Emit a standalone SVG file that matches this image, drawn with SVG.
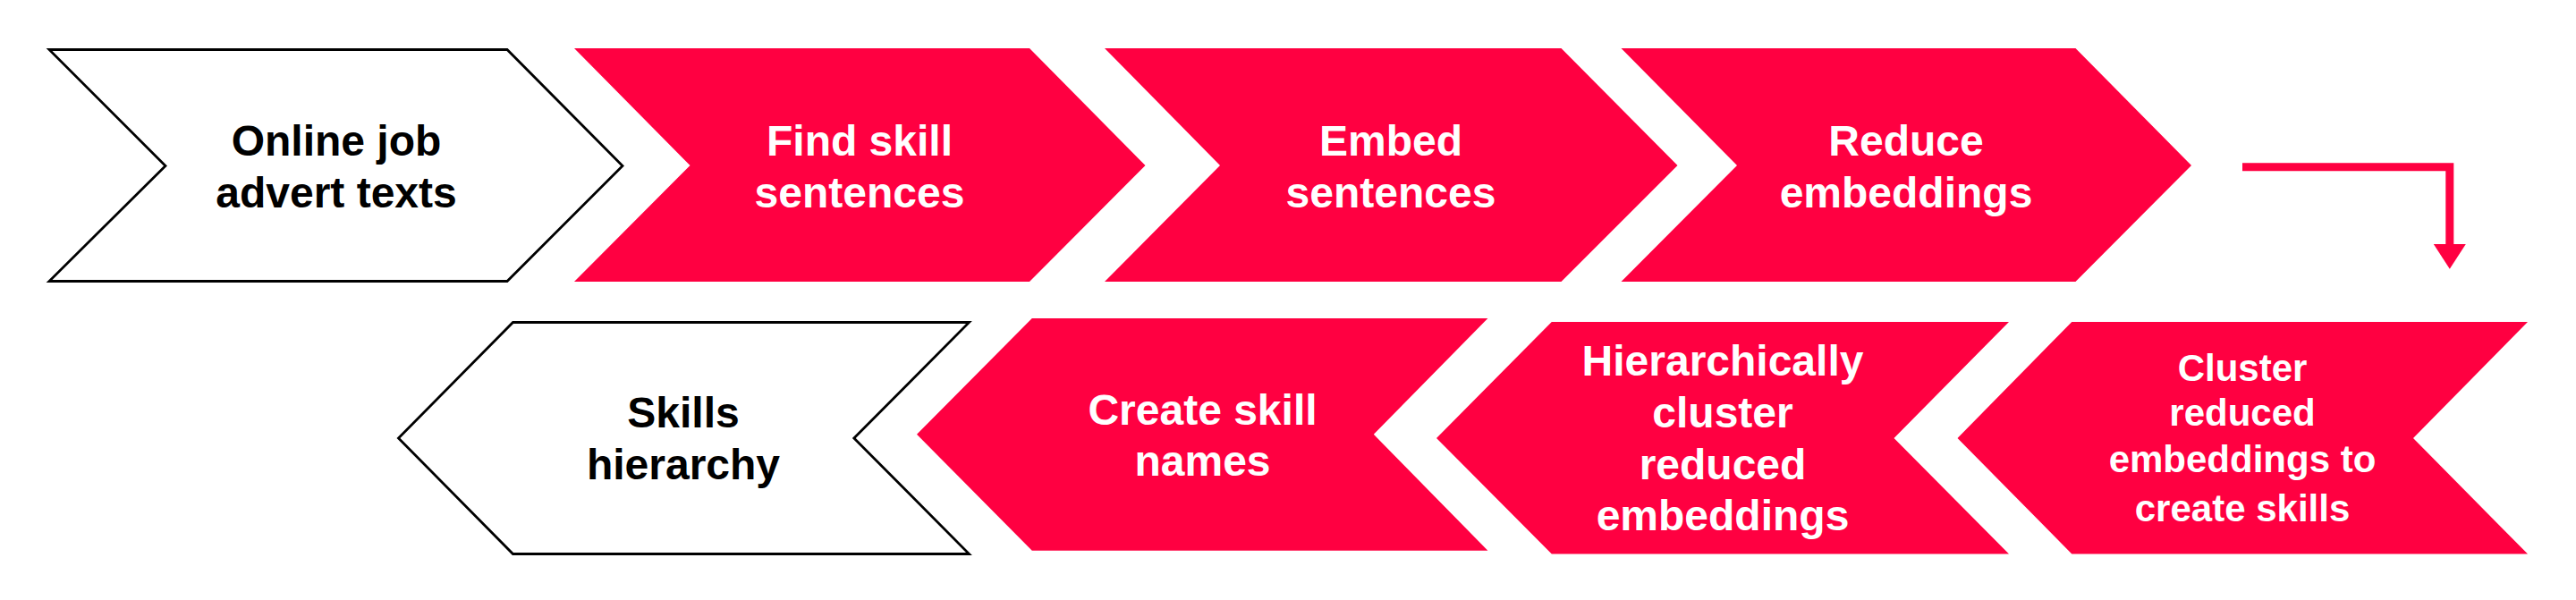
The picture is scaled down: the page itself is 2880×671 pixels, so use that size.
<svg xmlns="http://www.w3.org/2000/svg" width="2880" height="671" viewBox="0 0 2880 671">
  <style>
    .red { fill: #FF0041; }
    .white { fill: #FFFFFF; stroke: #000000; stroke-width: 2.8; stroke-linejoin: miter; }
    .t { font-family: "Liberation Sans", Arial, sans-serif; font-weight: bold; font-size: 48px; text-anchor: middle; }
    .tw { fill: #FFFFFF; }
    .tb { fill: #000000; }
    .small { font-size: 42px; }
    .conn { fill: none; stroke: #FF0041; stroke-width: 9; }
    .head { fill: #FF0041; }
  </style>
  <rect width="2880" height="671" fill="#FFFFFF"/>

  <g id="node-online-job-advert-texts">
    <polygon class="white" points="55,55.5 567,55.5 696,185.5 567,314.5 55,314.5 185,185.5"/>
    <text class="t tb" x="376" y="174">Online job</text>
    <text class="t tb" x="376" y="231.7">advert texts</text>
  </g>

  <g id="node-find-skill-sentences">
    <polygon class="red" points="642,54 1151,54 1280.5,185 1151,315 642,315 771.5,185"/>
    <text class="t tw" x="961" y="174">Find skill</text>
    <text class="t tw" x="961" y="231.7">sentences</text>
  </g>

  <g id="node-embed-sentences">
    <polygon class="red" points="1235,54 1745.5,54 1875.5,185 1745.5,315 1235,315 1364,185"/>
    <text class="t tw" x="1555" y="174">Embed</text>
    <text class="t tw" x="1555" y="231.7">sentences</text>
  </g>

  <g id="node-reduce-embeddings">
    <polygon class="red" points="1812.5,54 2320.5,54 2450,185 2320.5,315 1812.5,315 1942,185"/>
    <text class="t tw" x="2131" y="174">Reduce</text>
    <text class="t tw" x="2131" y="231.7">embeddings</text>
  </g>

  <g id="node-cluster-reduced-embeddings">
    <polygon class="red" points="2188.5,490 2316.3,360 2826,360 2698,490 2826,619.5 2316.3,619.5"/>
    <text class="t tw small" x="2507" y="425.7">Cluster</text>
    <text class="t tw small" x="2507" y="476">reduced</text>
    <text class="t tw small" x="2507" y="527.7">embeddings to</text>
    <text class="t tw small" x="2507" y="583.3">create skills</text>
  </g>

  <g id="node-hierarchically-cluster">
    <polygon class="red" points="1606,490 1734.8,360 2246,360 2117.5,490 2246,619.5 1734.8,619.5"/>
    <text class="t tw" x="1926" y="420">Hierarchically</text>
    <text class="t tw" x="1926" y="478.3">cluster</text>
    <text class="t tw" x="1926" y="536">reduced</text>
    <text class="t tw" x="1926" y="593.3">embeddings</text>
  </g>

  <g id="node-create-skill-names">
    <polygon class="red" points="1025,485.8 1153.8,356 1663.4,356 1535.8,485.8 1663.4,615.7 1153.8,615.7"/>
    <text class="t tw" x="1344.5" y="475">Create skill</text>
    <text class="t tw" x="1344.5" y="531.7">names</text>
  </g>

  <g id="node-skills-hierarchy">
    <polygon class="white" points="445.5,490 573.5,360.5 1083.5,360.5 954.8,490 1083.5,619.5 573.5,619.5"/>
    <text class="t tb" x="764" y="478.3">Skills</text>
    <text class="t tb" x="764" y="536">hierarchy</text>
  </g>

  <g id="connectors">
    <path class="conn" d="M2507,186.7 H2738.8 V273.3"/>
    <polygon class="head" points="2720.8,273 2756.8,273 2738.8,300.7"/>
  </g>
</svg>
